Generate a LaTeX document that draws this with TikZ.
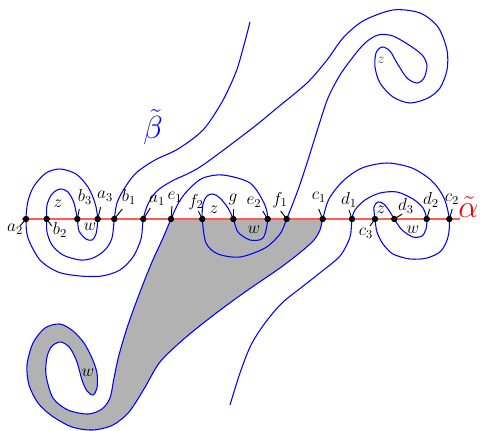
\RequirePackage{fix-cm}
\documentclass[tikz,border=0pt]{standalone}
\begin{document}
\begin{tikzpicture}[x=0.75pt,y=-0.75pt,
  bcurve/.style={blue,line width=0.8pt},
  aline/.style={red!65,line width=1.1pt},
  dotn/.style={circle,fill=black,inner sep=0pt,minimum size=4.8pt},
  tick/.style={black,line width=0.7pt},
  lab/.style={inner sep=0pt,font=\fontsize{13}{15}\selectfont},
  biglab/.style={inner sep=0pt,font=\fontsize{24}{28}\selectfont}]
\useasboundingbox (0,0) rectangle (480,430);

% gray region
\fill[black!30] plot[smooth] coordinates {(171,219) (163,238) (152,262) (140,292) (128,325) (119,355) (114,378) (110,398) (102,409) (88,414) (68,410) (53,398) (46,375) (47,357) (52,346) (61,342) (70,348) (77,362) (82,380) (87,391) (93,395) (97,388) (97,373) (92,358) (84,343) (73,331) (60,324) (45,328) (33,343) (27,365) (29,385) (38,403) (52,416) (72,427) (93,430) (113,425) (129,412) (144,389) (160,362) (185,338) (215,314) (245,292) (280,268) (302,251) (314,240) (320,230) (322.7,219)} -- cycle;

% alpha line
\coordinate (aL) at (22,219);
\coordinate (aR) at (460,219);
\draw[aline] (aL) -- (aR);

% intersection points
\foreach \n/\x in {a2/26,b2/46.7,b3/77.3,a3/97.7,b1/114.3,a1/143.3,e1/171,f2/202.3,g/233.3,e2/267.7,f1/286.7,c1/322.7,d1/352,c3/375,d3/394.3,d2/426.7,c2/449.3}
  \coordinate (\n) at (\x,219);

% beta curve
\draw[bcurve] plot[smooth] coordinates {
(250,22) (244,45) (236,72) (222,102) (203,130) (178,149) (155,160) (136,173) (124,189) (117,203) (b1)
(112,238) (105,250) (93,258) (80,260) (63,255) (52,245) (47,232) (b2)
(47,205) (52,194) (60,189) (68,192) (74,203) (b3)
(79,231) (86,239) (92,240) (96,234) (a3)
(95,203) (88,187) (76,174) (60,169) (46,173) (34,186) (28,201) (a2)
(28,238) (40,260) (58,272) (80,276) (102,276) (120,270) (133,257) (141,239) (a1)
(148,204) (157,191) (172,181) (200,167) (250,130) (277,108) (307,83) (327,60) (343,38) (363,21) (393,10) (420,13) (438,27) (447,50) (447,70) (440,88) (428,98) (410,103) (393,97) (380,83) (375,67) (376,53) (382,47) (390,51) (397,63) (407,78) (417,83) (424,78) (427,66) (423,56) (412,47) (393,36) (378,35) (365,43) (353,57) (340,75) (328,98) (318,128) (308,160) (298,190) (f1)
(280,234) (265,248) (240,257) (218,254) (206,243) (f2)
(203,204) (207,196) (213,194) (220,198) (228,208) (g)
(238,232) (250,240) (263,238) (e2)
(264,203) (250,183) (223,175) (203,178) (189,189) (179,202) (e1)
(163,238) (152,262) (140,292) (128,325) (119,355) (114,378) (110,398) (102,409) (88,414) (68,410) (53,398) (46,375) (47,357) (52,346) (61,342) (70,348) (77,362) (82,380) (87,391) (93,395) (97,388) (97,373) (92,358) (84,343) (73,331) (60,324) (45,328) (33,343) (27,365) (29,385) (38,403) (52,416) (72,427) (93,430) (113,425) (129,412) (144,389) (160,362) (185,338) (215,314) (245,292) (280,268) (302,251) (314,240) (320,230) (c1)
(329,199) (343,181) (362,168) (387,163) (412,168) (432,181) (444,198) (c2)
(448,237) (441,251) (427,258) (410,259) (393,254) (383,244) (377,232) (c3)
(374,207) (378,202) (384,204) (390,212) (d3)
(402,230) (413,237) (422,236) (426,229) (d2)
(423,208) (413,199) (397,192) (380,193) (365,200) (355,210) (d1)
(350,237) (340,256) (321,272) (302,287) (282,303) (265,323) (251,345) (240,373) (230,405)};

% ticks
\draw[tick] (a2) -- ++(-6,7);
\draw[tick] (b2) -- ++(5,7);
\draw[tick] (b3) -- ++(2,-10);
\draw[tick] (a3) -- ++(3,-12);
\draw[tick] (b1) -- ++(8,-10);
\draw[tick] (a1) -- ++(7,-11);
\draw[tick] (e1) -- ++(1,-13);
\draw[tick] (f2) -- ++(-4,-8);
\draw[tick] (g) -- ++(0,-10);
\draw[tick] (e2) -- ++(-5,-8);
\draw[tick] (f1) -- ++(-6,-8);
\draw[tick] (c1) -- ++(-4,-10);
\draw[tick] (d1) -- ++(-3,-9);
\draw[tick] (c3) -- ++(-5,7);
\draw[tick] (d3) -- ++(8,-5);
\draw[tick] (d2) -- ++(3,-10);
\draw[tick] (c2) -- ++(3,-10);

% dots
\foreach \n in {a2,b2,b3,a3,b1,a1,e1,f2,g,e2,f1,c1,d1,c3,d3,d2,c2}
  \node[dotn] (p\n) at (\n) {};

% labels
\node[lab] (la2) at (15,229) {$a_2$};
\node[lab] (lb2) at (60,230) {$b_2$};
\node[lab] (lb3) at (85,197) {$b_3$};
\node[lab] (la3) at (105,196) {$a_3$};
\node[lab] (lb1) at (129,197) {$b_1$};
\node[lab] (la1) at (157,200) {$a_1$};
\node[lab] (le1) at (175,197) {$e_1$};
\node[lab] (lf2) at (196,202) {$f_2$};
\node[lab] (lz1) at (214,210) {$z$};
\node[lab] (lg) at (233,199) {$g$};
\node[lab] (le2) at (254,202) {$e_2$};
\node[lab] (lf1) at (280,200) {$f_1$};
\node[lab] (lc1) at (319,197) {$c_1$};
\node[lab] (ld1) at (349,200) {$d_1$};
\node[lab] (lz2) at (381,210) {$z$};
\node[lab] (lc3) at (366,233) {$c_3$};
\node[lab] (ld3) at (406,206) {$d_3$};
\node[lab] (ld2) at (431,200) {$d_2$};
\node[lab] (lc2) at (452,199) {$c_2$};
\node[lab] (lw1) at (254,230) {$w$};
\node[lab] (lw2) at (413,230) {$w$};
\node[lab] (lz3) at (58,204) {$z$};
\node[lab] (lw3) at (90,227) {$w$};
\node[lab] (lw4) at (88,373) {$w$};
\node[lab,text=black!70,scale=0.85] (lz4) at (381,60) {$z$};
\node[biglab,text=blue] (lbeta) at (153,127) {$\tilde\beta$};
\node[biglab,text=red,anchor=west] (lalpha) at (458,207) {$\tilde\alpha$};
\end{tikzpicture}
\end{document}
